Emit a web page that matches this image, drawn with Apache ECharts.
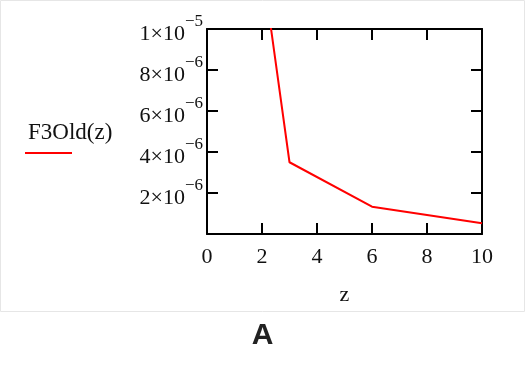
<!DOCTYPE html>
<html>
<head>
<meta charset="utf-8">
<script src="https://cdn.jsdelivr.net/npm/echarts@6/dist/echarts.min.js"></script>
<style>html,body{margin:0;padding:0;background:#fff;}#c{width:525px;height:367px;}</style>
</head>
<body>
<div id="c"></div>
<script>
// Data
var zValues = [2, 3, 6, 10];
var f3Old = [1.32e-5, 3.5e-6, 1.33e-6, 0.52e-6];
var seriesName = 'F3Old(z)';
var xTicks = [0, 2, 4, 6, 8, 10];
var yTickMantissa = {2e-6: ['2', '−6'], 4e-6: ['4', '−6'], 6e-6: ['6', '−6'], 8e-6: ['8', '−6'], 1e-5: ['1', '−5']};
var panelLabel = 'A';

var serif = 'Liberation Serif';
var chart = echarts.init(document.getElementById('c'), null, {renderer: 'canvas'});
var pts = zValues.map(function (z, i) { return [z, f3Old[i]]; });

function yFmt(v) {
  for (var k in yTickMantissa) {
    if (Math.abs(Number(k) - v) < 1e-9) {
      var m = yTickMantissa[k];
      return '{b|' + m[0] + '×10}{s|' + m[1] + '}';
    }
  }
  return '';
}

var axisLine = {show: true, onZero: false, lineStyle: {color: '#000', width: 2}};
var axisTick = {show: true, inside: true, length: 11, lineStyle: {color: '#000', width: 2}};

chart.setOption({
  backgroundColor: '#fff',
  animation: false,
  title: {
    text: panelLabel, left: 'center', top: 316,
    textStyle: {fontFamily: 'Liberation Sans', fontWeight: 'bold', fontSize: 30, color: '#222'}
  },
  grid: {left: 207, top: 29, right: 43, bottom: 133, containLabel: false},
  xAxis: [{
    type: 'value', min: 0, max: 10, interval: 2, position: 'bottom',
    name: 'z', nameLocation: 'middle', nameGap: 50,
    nameTextStyle: {fontFamily: serif, fontSize: 22, color: '#111'},
    axisLine: axisLine, axisTick: axisTick, splitLine: {show: false},
    axisLabel: {margin: 12, fontFamily: serif, fontSize: 22, color: '#111'}
  }, {
    type: 'value', min: 0, max: 10, interval: 2, position: 'top',
    axisLine: axisLine, axisTick: axisTick, splitLine: {show: false},
    axisLabel: {show: false}
  }],
  yAxis: [{
    type: 'value', min: 0, max: 1e-5, interval: 2e-6, position: 'left',
    axisLine: axisLine, axisTick: axisTick, splitLine: {show: false},
    axisLabel: {
      margin: 4, formatter: yFmt,
      rich: {
        b: {fontFamily: serif, fontSize: 22, color: '#111', lineHeight: 32, verticalAlign: 'bottom'},
        s: {fontFamily: serif, fontSize: 17, color: '#111', lineHeight: 32, verticalAlign: 'top'}
      }
    }
  }, {
    type: 'value', min: 0, max: 1e-5, interval: 2e-6, position: 'right',
    axisLine: axisLine, axisTick: axisTick, splitLine: {show: false},
    axisLabel: {show: false}
  }],
  graphic: [
    {type: 'rect', shape: {x: 0.5, y: 0.5, width: 524, height: 311},
     style: {fill: 'none', stroke: '#e6e6e6', lineWidth: 1}, silent: true, z: -10},
    {type: 'text', left: 28, top: 121,
     style: {text: seriesName, font: '23px "Liberation Serif"', fill: '#111'}},
    {type: 'line', shape: {x1: 25, y1: 153, x2: 72, y2: 153},
     style: {stroke: '#ff0000', lineWidth: 2}}
  ],
  series: [{
    name: seriesName, type: 'line', data: pts, clip: true,
    showSymbol: false, symbol: 'none',
    lineStyle: {color: '#ff0000', width: 2}, itemStyle: {color: '#ff0000'}
  }]
});
</script>
</body>
</html>
